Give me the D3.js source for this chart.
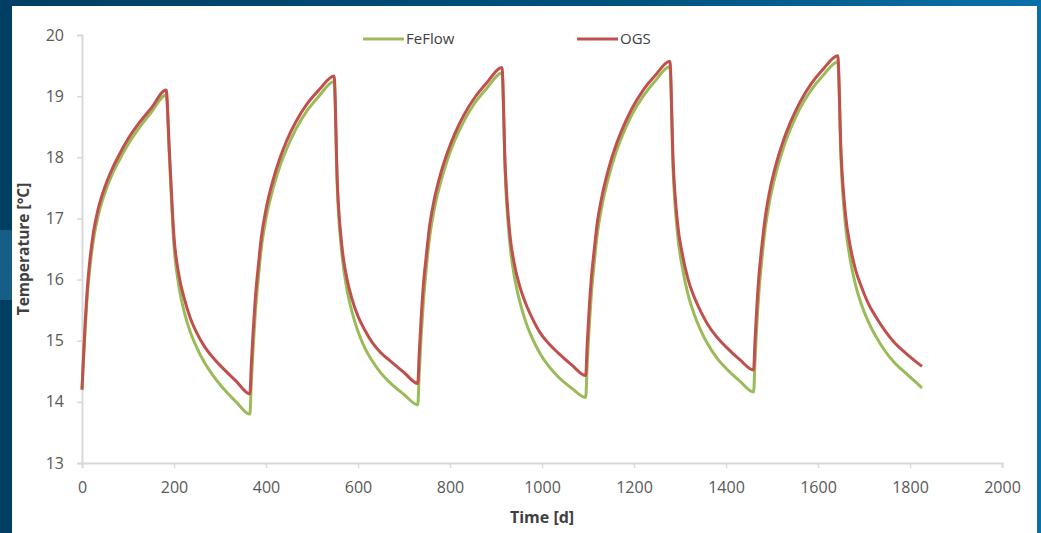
<!DOCTYPE html>
<html lang="en">
<head>
    <meta charset="UTF-8">
    <script src="https://cdn.jsdelivr.net/npm/d3@7"></script>
    <title>FeFlow vs OGS</title>
    <style>
        html, body {
            margin: 0;
            padding: 0;
            overflow: hidden;
        }
        svg {
            display: block;
        }
    </style>
</head>
<body>
<svg width="1041" height="533"></svg>
<script>
    // time in days (heating, then cooling)
    var days = [
        0, 3, 7, 12, 18, 25, 35, 50, 65, 80, 100, 125, 150, 183,
        190, 200, 210, 222, 235, 250, 265, 285, 305, 335,
        365, 368, 372, 377, 383, 390, 400, 415, 430, 445, 465, 490, 515, 548,
        555, 565, 575, 587, 600, 615, 630, 650, 670, 700,
        730, 733, 737, 742, 748, 755, 765, 780, 795, 810, 830, 855, 880, 913,
        920, 930, 940, 952, 965, 980, 995, 1015, 1035, 1065,
        1095, 1098, 1102, 1107, 1113, 1120, 1130, 1145, 1160, 1175, 1195, 1220, 1245, 1278,
        1285, 1295, 1305, 1317, 1330, 1345, 1360, 1380, 1400, 1430,
        1460, 1463, 1467, 1472, 1478, 1485, 1495, 1510, 1525, 1540, 1560, 1585, 1610, 1643,
        1650, 1660, 1670, 1682, 1695, 1710, 1725, 1745, 1765, 1795, 1826
    ];
    var feflow = [
        14.2, 14.65, 15.2, 15.78, 16.25, 16.66, 17.04, 17.42, 17.71, 17.94, 18.21, 18.49, 18.73, 19.02,
        18.0, 16.55, 15.92, 15.48, 15.15, 14.88, 14.66, 14.43, 14.24, 14.0,
        13.8, 14.3, 14.88, 15.48, 16.0, 16.52, 17.0, 17.48, 17.85, 18.14, 18.46, 18.77, 19.0, 19.24,
        17.5, 16.42, 15.88, 15.47, 15.15, 14.88, 14.68, 14.47, 14.31, 14.12,
        13.95, 14.45, 15.03, 15.62, 16.14, 16.65, 17.12, 17.6, 17.97, 18.27, 18.59, 18.9, 19.13, 19.38,
        17.72, 16.6, 16.05, 15.63, 15.3, 15.02, 14.8, 14.58, 14.41, 14.22,
        14.07, 14.57, 15.15, 15.73, 16.23, 16.73, 17.19, 17.68, 18.06, 18.36, 18.69, 19.0, 19.24, 19.48,
        17.8, 16.72, 16.2, 15.77, 15.45, 15.17, 14.95, 14.72, 14.55, 14.34,
        14.16, 14.66, 15.25, 15.83, 16.33, 16.82, 17.29, 17.78, 18.16, 18.46, 18.79, 19.1, 19.33, 19.56,
        17.95, 16.87, 16.33, 15.9, 15.58, 15.3, 15.08, 14.84, 14.65, 14.44, 14.23
    ];
    var ogs = [
        14.2, 14.7, 15.3, 15.9, 16.38, 16.78, 17.15, 17.52, 17.8, 18.03, 18.3, 18.57, 18.8, 19.1,
        18.1, 16.7, 16.1, 15.7, 15.38, 15.12, 14.92, 14.72, 14.56, 14.34,
        14.13, 14.6, 15.15, 15.72, 16.2, 16.7, 17.15, 17.62, 17.98, 18.27, 18.58, 18.88, 19.1, 19.33,
        17.6, 16.55, 16.05, 15.68, 15.4, 15.17, 14.98, 14.8, 14.67, 14.48,
        14.3, 14.78, 15.33, 15.9, 16.36, 16.84, 17.28, 17.74, 18.09, 18.38, 18.69, 18.99, 19.22, 19.47,
        17.85, 16.75, 16.25, 15.88, 15.6, 15.35, 15.14, 14.95, 14.8, 14.6,
        14.43, 14.9, 15.45, 16.0, 16.45, 16.92, 17.35, 17.82, 18.18, 18.47, 18.79, 19.1, 19.33, 19.57,
        17.95, 16.9, 16.42, 16.02, 15.73, 15.48, 15.27, 15.06, 14.9, 14.69,
        14.52, 15.0, 15.55, 16.1, 16.55, 17.0, 17.45, 17.92, 18.28, 18.57, 18.89, 19.2, 19.43, 19.66,
        18.1, 17.05, 16.55, 16.15, 15.87, 15.6, 15.4, 15.17, 14.98, 14.77, 14.58
    ];
    var seriesNames = ["FeFlow", "OGS"];
    var xTicks = [0, 200, 400, 600, 800, 1000, 1200, 1400, 1600, 1800, 2000];
    var yTicks = [13, 14, 15, 16, 17, 18, 19, 20];

    var svg = d3.select("svg");
    var colors = {FeFlow: "#9bbb59", OGS: "#c0504d"};

    // blue slide background
    var defs = svg.append("defs");
    var grad = defs.append("linearGradient").attr("id", "bg")
        .attr("x1", "0").attr("y1", "0").attr("x2", "1").attr("y2", "0");
    grad.append("stop").attr("offset", "0").attr("stop-color", "#003e64");
    grad.append("stop").attr("offset", "0.6").attr("stop-color", "#00527f");
    grad.append("stop").attr("offset", "1").attr("stop-color", "#0a70a8");
    svg.append("rect").attr("width", 1041).attr("height", 533).attr("fill", "url(#bg)");
    svg.append("rect").attr("x", 0).attr("y", 230).attr("width", 12).attr("height", 70)
        .attr("fill", "#1b6591").attr("opacity", 0.8);
    svg.append("rect").attr("x", 12).attr("y", 6).attr("width", 1025).attr("height", 527)
        .attr("fill", "#ffffff");

    var x = d3.scaleLinear().domain([0, 2000]).range([82, 1002]);
    var y = d3.scaleLinear().domain([13, 20]).range([463, 35]);

    var xAxis = svg.append("g")
        .attr("transform", "translate(0," + y(13) + ")")
        .call(d3.axisBottom(x).tickValues(xTicks).tickSize(5).tickPadding(14).tickFormat(d3.format("d")));
    var yAxis = svg.append("g")
        .attr("transform", "translate(" + x(0) + ",0)")
        .call(d3.axisLeft(y).tickValues(yTicks).tickSize(5).tickPadding(13).tickFormat(d3.format("d")));

    [xAxis, yAxis].forEach(function (g) {
        g.select(".domain").attr("stroke", "#d9d9d9").attr("stroke-width", 2);
        g.selectAll(".tick line").attr("stroke", "#d9d9d9").attr("stroke-width", 1.5);
        g.selectAll(".tick text")
            .attr("fill", "#595959")
            .style("font-family", "'Open Sans', sans-serif")
            .style("font-size", "16px");
    });

    svg.append("text")
        .attr("x", 542).attr("y", 523)
        .attr("text-anchor", "middle")
        .attr("fill", "#404040")
        .style("font-family", "'Open Sans', sans-serif")
        .style("font-weight", "bold")
        .style("font-size", "16px")
        .text("Time [d]");

    svg.append("text")
        .attr("transform", "translate(29," + y(16.5) + ") rotate(-90)")
        .attr("text-anchor", "middle")
        .attr("fill", "#404040")
        .style("font-family", "'Open Sans', sans-serif")
        .style("font-weight", "bold")
        .style("font-size", "15.5px")
        .text("Temperature [°C]");

    var line = d3.line()
        .x(function (d) { return x(d[0]); })
        .y(function (d) { return y(d[1]); })
        .curve(d3.curveMonotoneX);

    var values = {FeFlow: feflow, OGS: ogs};
    seriesNames.forEach(function (name) {
        var pts = days.map(function (t, i) { return [t, values[name][i]]; });
        svg.append("path")
            .datum(pts)
            .attr("fill", "none")
            .attr("stroke", colors[name])
            .attr("stroke-width", 3)
            .attr("stroke-linejoin", "round")
            .attr("d", line);
    });

    // legend
    var legendX = {FeFlow: 363, OGS: 577};
    seriesNames.forEach(function (name) {
        var g = svg.append("g").attr("transform", "translate(" + legendX[name] + ",39)");
        g.append("line").attr("x1", 0).attr("x2", 41)
            .attr("stroke", colors[name]).attr("stroke-width", 3);
        g.append("text").attr("x", 43).attr("y", 5)
            .attr("fill", "#404040")
            .style("font-family", "'Open Sans', sans-serif")
            .style("font-size", "15px")
            .text(name);
    });
</script>
</body>
</html>
